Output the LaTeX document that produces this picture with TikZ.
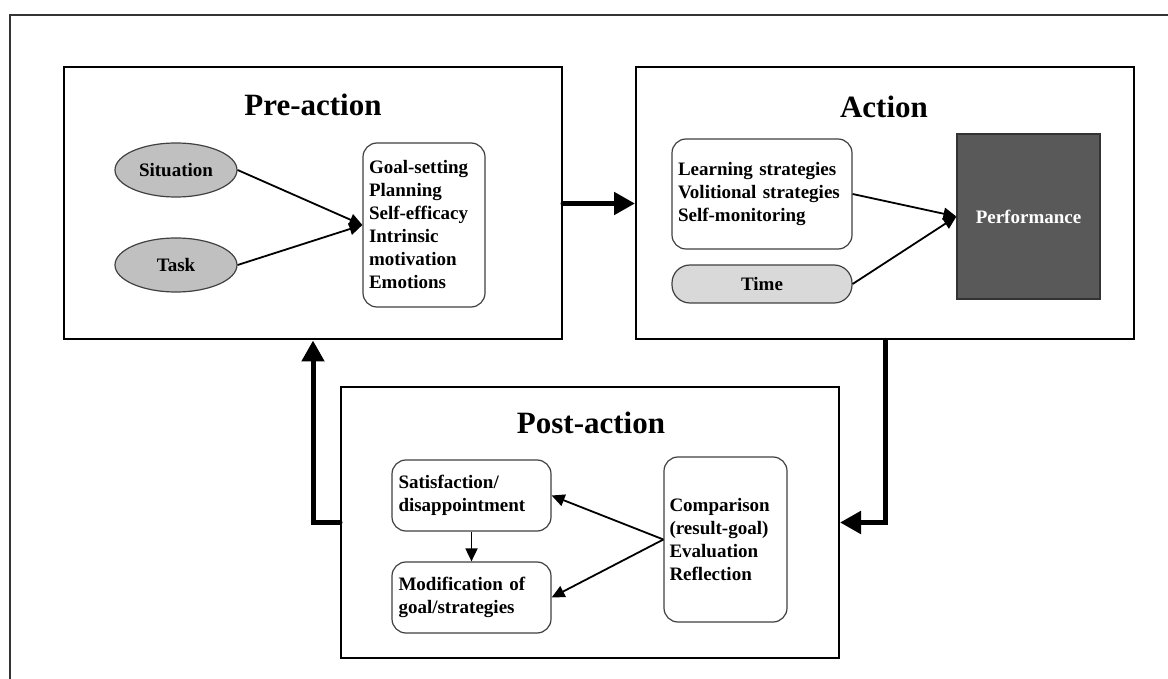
\documentclass[tikz,border=0pt]{standalone}
\usepackage{fontspec}
\setmainfont{Liberation Serif}
\usepackage{xcolor}
\usetikzlibrary{arrows.meta,shapes.geometric,positioning}
\definecolor{silvergray}{HTML}{C0C0C0}
\definecolor{timegray}{HTML}{D9D9D9}
\definecolor{perfgray}{HTML}{595959}

\begin{document}
\begin{tikzpicture}[x=0.5pt, y=-0.5pt,
    phase/.style={draw, line width=1pt, minimum width=249pt, minimum height=136pt, inner sep=0pt},
    phasetitle/.style={font=\fontsize{15.5}{18}\selectfont\bfseries},
    itembox/.style={draw=black!75, line width=0.6pt, rounded corners=7pt, fill=white, align=left,
        font=\fontsize{9.5}{11.5}\selectfont\bfseries, inner sep=0pt},
    factor/.style={draw=black!75, line width=0.6pt, ellipse, fill=silvergray, inner sep=0pt,
        minimum width=61pt, minimum height=27pt, font=\fontsize{9.5}{11.5}\selectfont\bfseries},
    thinarrow/.style={-{Triangle[length=6.5pt,width=6pt]}, line width=0.9pt},
    flowarrow/.style={-{Triangle[length=10.5pt,width=11pt]}, line width=2.5pt, line cap=round}]
    \useasboundingbox (0,0) rectangle (1168,679);

    % Rahmen
    \draw[black!80, line width=0.8pt] (10,679) -- (10,15) -- (1168,15);

    % Pre-action
    \node[phase] (pre) at (313,203.5) {};
    \node[phasetitle] (preT) at (313,105) {Pre-action};
    \node[factor] (sit) at (176,170) {Situation};
    \node[factor] (task) at (176,265) {Task};
    \node[itembox, minimum width=61pt, minimum height=82pt, text width=55pt] (goal) at (424,225)
        {Goal-setting\\Planning\\Self-efficacy\\Intrinsic\\motivation\\Emotions};
    \draw[thinarrow] (sit.east) -- (goal.west);
    \draw[thinarrow] (task.east) -- (goal.west);

    % Action
    \node[phase] (act) at (885,203.5) {};
    \node[phasetitle] (actT) at (884,107) {Action};
    \node[itembox, minimum width=90pt, minimum height=55pt, text width=84pt] (learn) at (762,194)
        {Learning strategies\\Volitional strategies\\Self-monitoring};
    \node[itembox, fill=timegray, rounded corners=9pt, align=center, minimum width=90pt, minimum height=19pt] (time) at (762,284) {Time};
    \node[draw=black!80, line width=0.6pt, fill=perfgray, text=white, minimum width=71.5pt, minimum height=82.5pt,
        inner sep=0pt, font=\fontsize{9.5}{11.5}\selectfont\bfseries] (perf) at (1028.5,216.5) {Performance};
    \draw[thinarrow] (learn.east) -- (perf.west);
    \draw[thinarrow] (time.east) -- (perf.west);

    % Post-action
    \node[phase, minimum height=135.5pt] (post) at (590,522.5) {};
    \node[phasetitle] (postT) at (591,423) {Post-action};
    \node[itembox, minimum width=79.5pt, minimum height=35.5pt, text width=73pt] (sat) at (471.5,495.5)
        {Satisfaction/\\disappointment};
    \node[itembox, minimum width=79.5pt, minimum height=35.5pt, text width=73pt] (mod) at (471.5,597.5)
        {Modification of\\goal/strategies};
    \node[itembox, minimum width=61.5pt, minimum height=82.5pt, text width=56pt] (comp) at (725.5,539.5)
        {Comparison\\(result-goal)\\Evaluation\\Reflection};
    \draw[thinarrow] (comp.west) -- (sat.east);
    \draw[thinarrow] (comp.west) -- (mod.east);
    \draw[thinarrow] (sat.south) -- (mod.north);

    % Zyklus
    \draw[flowarrow] (pre.east) -- (act.west);
    \draw[flowarrow] (act.south) |- (post.east);
    \draw[flowarrow] (post.west) -| (pre.south);
\end{tikzpicture}
\end{document}
